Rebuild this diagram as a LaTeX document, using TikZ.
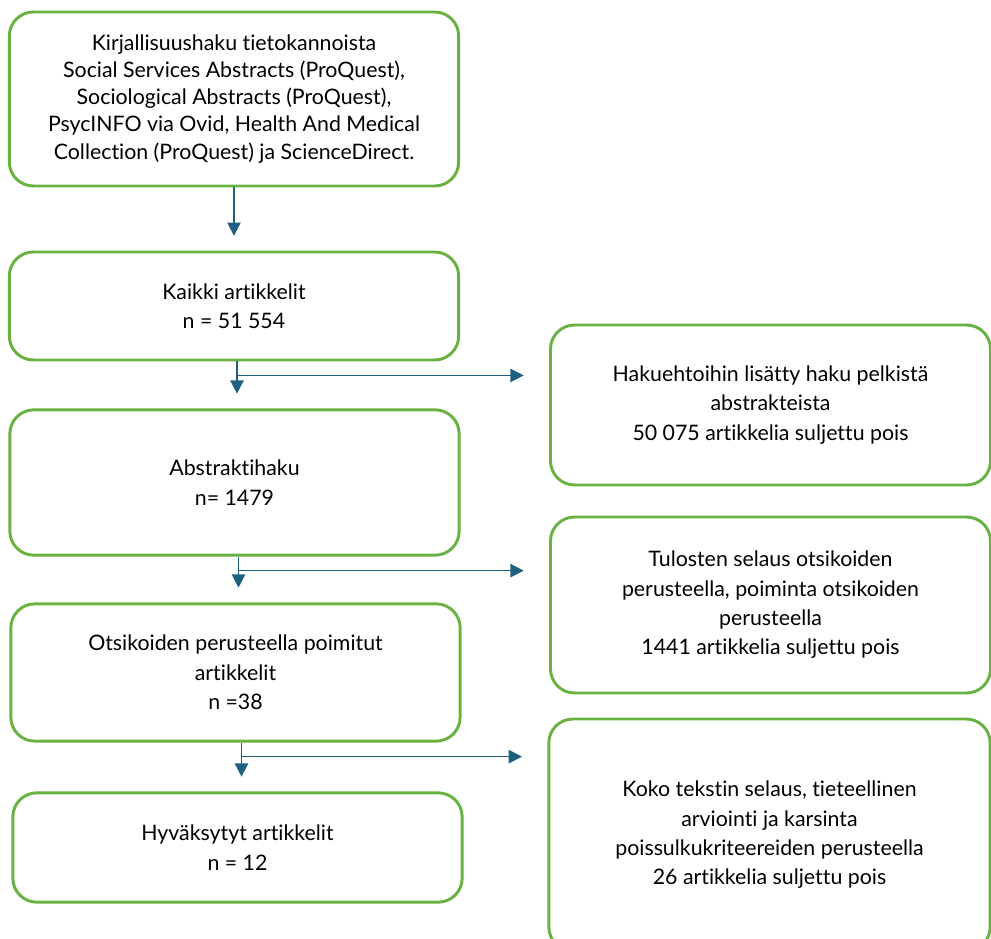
\documentclass[tikz,border=0pt]{standalone}
\usepackage{fontspec}
\setmainfont{Lato}[Ligatures=NoCommon]
\usetikzlibrary{arrows.meta,calc,positioning}
\definecolor{boxgreen}{RGB}{104,178,66}
\definecolor{flowblue}{RGB}{30,96,128}
\tikzset{flow/.style={draw=flowblue, line width=1.1pt, -{Triangle[length=10pt,width=10pt]}, shorten >=11pt},
  stage/.style={draw=boxgreen, line width=2.2pt, rounded corners=18pt, align=center,
    minimum width=337pt, font=\fontsize{16}{22}\selectfont},
  excl/.style={stage, minimum width=330pt}}

\begin{document}
\begin{tikzpicture}[x=0.75pt, y=-0.75pt]
  \useasboundingbox[fill=white] (0,0) rectangle (991,938);
  \clip (0,0) rectangle (991,938);
  % main column
  \node[stage, minimum height=130.5pt, font=\fontsize{16}{20.3}\selectfont] (s1) at (234,99) {Kirjallisuushaku tietokannoista\\Social Services Abstracts (ProQuest),\\Sociological Abstracts (ProQuest),\\PsycINFO via Ovid, Health And Medical\\Collection (ProQuest) ja ScienceDirect.};
  \node[stage, minimum height=81pt] (s2) at (234,306) {Kaikki artikkelit\\n = 51 554};
  \node[stage, minimum height=109pt] (s3) at (234.5,482.5) {Abstraktihaku\\n= 1479};
  \node[stage, minimum height=103pt] (s4) at (235.5,672.5) {Otsikoiden perusteella poimitut\\artikkelit\\n =38};
  \node[stage, minimum height=82pt] (s5) at (237.5,847.5) {Hyväksytyt artikkelit\\n = 12};
  % excluded
  \node[excl, minimum height=120pt] (r1) at (770.5,405) {Hakuehtoihin lisätty haku pelkistä\\abstrakteista\\50 075 artikkelia suljettu pois};
  \node[excl, minimum height=132pt] (r2) at (770.5,605) {Tulosten selaus otsikoiden\\perusteella, poiminta otsikoiden\\perusteella\\1441 artikkelia suljettu pois};
  \node[excl, minimum height=174pt, minimum width=331pt] (r3) at (769.5,835) {Koko tekstin selaus, tieteellinen\\arviointi ja karsinta\\poissulkukriteereiden perusteella\\26 artikkelia suljettu pois};
  % arrows
  \draw[flow] (s1) -- (s2);
  \foreach \a/\b/\r/\dx in {s2/s3/r1/3, s3/s4/r2/4, s4/s5/r3/6}{
    \draw[flow] ($(\a.south)+(\dx,0)$) coordinate (t\a) -- (t\a |- \b.north);
    \coordinate (j\a) at ($(t\a)+(0,14)$);
    \draw[flow, shorten >=19pt] (j\a) -- (j\a -| \r.west);
  }
\end{tikzpicture}
\end{document}
